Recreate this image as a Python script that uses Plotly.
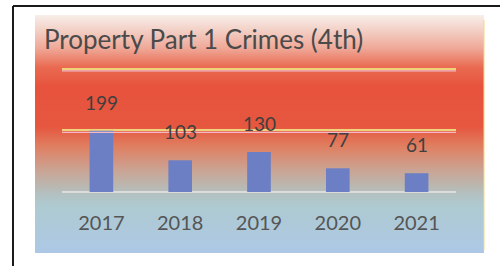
import base64
import plotly.graph_objects as go

# ---- data ----
years = ["2017", "2018", "2019", "2020", "2021"]
crimes = [199, 103, 130, 77, 61]
title_text = "Property Part 1 Crimes (4th)"

FONT = "Lato"
W, H = 500, 266
ML, MR, MT, MB = 62, 44, 67, 74
PW, PH = W - ML - MR, H - MT - MB


def px(x):
    return (x - ML) / PW


def py(y):
    return 1 - (y - MT) / PH


# gradient background (styling only)
stops = [
    (0.00, "#f8eeea"),
    (0.06, "#f3d2c8"),
    (0.14, "#efa898"),
    (0.22, "#e96a50"),
    (0.30, "#e7533d"),
    (0.47, "#e6573f"),
    (0.55, "#e07e60"),
    (0.65, "#cba393"),
    (0.71, "#bcb5ad"),
    (0.75, "#b4c0c0"),
    (0.80, "#aecad0"),
    (1.00, "#adc8e6"),
]
svg = ('<svg xmlns="http://www.w3.org/2000/svg" width="100" height="100" preserveAspectRatio="none">'
       '<defs><linearGradient id="g" x1="0" y1="0" x2="0" y2="1">'
       + "".join(f'<stop offset="{o}" stop-color="{c}"/>' for o, c in stops) +
       '</linearGradient></defs><rect width="100" height="100" fill="url(#g)"/></svg>')
bg_uri = "data:image/svg+xml;base64," + base64.b64encode(svg.encode()).decode()

gx0, gx1, gy0, gy1 = 35, 484, 15, 253

fig = go.Figure()
fig.add_trace(go.Bar(
    x=years, y=crimes,
    marker=dict(color="#6c7ec4", line=dict(width=0)),
    hoverinfo="skip",
))

annotations = [
    dict(x=i, y=v, xref="x", yref="y", text=str(v), showarrow=False,
         yanchor="bottom", yshift=15,
         font=dict(family=FONT, size=19, color="#3f3f3f"))
    for i, v in enumerate(crimes)
]
annotations.append(dict(
    x=px(42), y=py(39), xref="paper", yref="paper", xanchor="left", yanchor="middle",
    text=title_text, showarrow=False,
    font=dict(family=FONT, size=26, color="#4a4a4a")))

# pink under-line of the gridlines (styling)
pink_lines = [
    dict(type="line", xref="paper", yref="y", x0=0, x1=1, ysizemode="pixel", yanchor=g,
         y0=-2, y1=-2, line=dict(color="#f2b8c8", width=1.2))
    for g in (200, 400)
]

fig.update_layout(
    width=W, height=H,
    margin=dict(l=ML, r=MR, t=MT, b=MB),
    paper_bgcolor="white",
    plot_bgcolor="rgba(0,0,0,0)",
    showlegend=False,
    bargap=0.7,
    images=[dict(source=bg_uri, xref="paper", yref="paper",
                 x=px(gx0), y=py(gy0), sizex=(gx1 - gx0) / PW, sizey=(gy1 - gy0) / PH,
                 xanchor="left", yanchor="top", sizing="stretch", layer="below")],
    shapes=[
        dict(type="line", xref="paper", yref="paper", x0=px(13), x1=px(500), y0=py(6), y1=py(6),
             line=dict(color="#1a1a1a", width=2)),
        dict(type="line", xref="paper", yref="paper", x0=px(13), x1=px(13), y0=py(6), y1=py(266),
             line=dict(color="#1a1a1a", width=2)),
        dict(type="line", xref="paper", yref="paper", x0=px(gx1), x1=px(gx1), y0=py(20), y1=py(250),
             line=dict(color="#f3d98a", width=1)),
    ] + pink_lines,
    annotations=annotations,
    xaxis=dict(type="category", range=[-0.5, len(years) - 0.5], autorange=False,
               showgrid=False, showline=False, zeroline=False,
               ticks="outside", ticklen=0, ticklabelstandoff=13,
               tickfont=dict(family=FONT, size=20, color="#555555")),
    yaxis=dict(range=[0, 406], autorange=False, tickvals=[0, 200, 400], showticklabels=False,
               showline=False, showgrid=True, gridcolor="#f0d27a", gridwidth=2,
               zeroline=True, zerolinecolor="#dcdcdc", zerolinewidth=1.5),
)

fig.write_html("out.html", config={"displayModeBar": False},
               post_script="document.body.style.margin='0';document.body.style.overflow='hidden';")
